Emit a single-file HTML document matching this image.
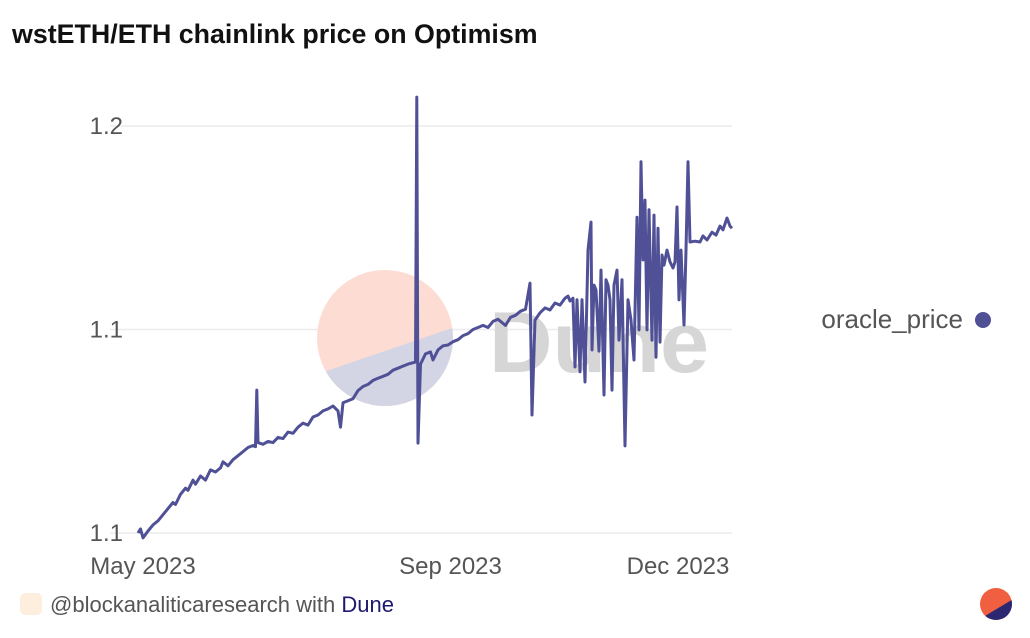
<!DOCTYPE html>
<html><head><meta charset="utf-8"><style>
body{margin:0;width:1030px;height:638px;background:#fff;overflow:hidden;font-family:"Liberation Sans",sans-serif;}
svg{position:absolute;left:0;top:0}
</style></head><body>
<svg id="chart" width="1030" height="638">
  <text x="12" y="43" font-size="26.8" font-weight="bold" fill="#111">wstETH/ETH chainlink price on Optimism</text>
  <g id="grid"></g>
  <g>
    <clipPath id="wc"><circle cx="385" cy="338" r="68"/></clipPath>
    <circle cx="385" cy="338" r="68" fill="#fcdcd3"/>
    <polygon points="300,380 470,322 470,420 300,420" fill="#d3d5e5" clip-path="url(#wc)"/>
    <text x="489" y="372" font-size="86" font-weight="bold" fill="#d6d6d6" textLength="220" lengthAdjust="spacingAndGlyphs">Dune</text>
  </g>
  <g id="yticks"></g>
  <g id="xticks"></g>
  <path id="line" fill="none" stroke="#505096" stroke-width="3" stroke-linejoin="round"/>
  <g>
    <text x="963" y="328" font-size="26" fill="#555" text-anchor="end">oracle_price</text>
    <circle cx="983" cy="320" r="8" fill="#505096"/>
  </g>
  <rect x="20" y="593" width="22" height="22" rx="5" fill="#fdeedd"/>
  <text x="50" y="612" font-size="22" fill="#555">@blockanaliticaresearch with <tspan fill="#1e1870">Dune</tspan></text>
  <g>
    <clipPath id="lc"><circle cx="996" cy="604" r="16"/></clipPath>
    <circle cx="996" cy="604" r="16" fill="#f06040"/>
    <polygon points="975,622 1015,598 1015,625 975,625" fill="#2b2770" clip-path="url(#lc)"/>
  </g>
</svg>
<script>
const days=[0,1,2,4,6,8,10,12,14,15,17,19,20,22,23,25,27,29,31,33,34,36,38,40,42,44,46,47,47.5,48,50,52,54,56,58,60,62,64,66,68,70,72,74,76,78,80,81,82,84,86,88,90,92,94,96,98,100,102,104,106,108,111,111.5,112,113,115,117,118,120,122,124,126,128,130,132,134,136,138,140,142,144,146,147,149,151,153,155,156.8,157.6,158.8,160.8,162.8,164.8,166.8,168.8,170.8,172,172.8,174,174.8,175.6,176.8,177.6,178.8,180,181.2,181.6,182.4,183.2,184.4,185.2,186.4,187.2,188,188.8,189.6,190.4,191.6,192.4,193.6,194.8,196,197.2,198.4,199.6,200.4,201.2,202,202.8,203.6,204.4,205.6,206.4,207.2,208,208.8,209.6,210.4,211.6,212.8,214,214.8,215.6,216.4,217.2,218.4,219.2,220,220.8,222.8,224.8,226,227.6,229.6,231.2,232.8,234,235.6,236.8,237.6];
const values=[1.0500,1.0510,1.0488,1.0505,1.0520,1.0530,1.0545,1.0560,1.0575,1.0570,1.0595,1.0610,1.0605,1.0630,1.0620,1.0640,1.0630,1.0655,1.0650,1.0660,1.0675,1.0665,1.0680,1.0690,1.0700,1.0710,1.0715,1.0712,1.0851,1.0722,1.0718,1.0725,1.0722,1.0735,1.0732,1.0748,1.0745,1.0760,1.0770,1.0765,1.0785,1.0790,1.0800,1.0805,1.0812,1.0800,1.0760,1.0820,1.0825,1.0830,1.0850,1.0860,1.0865,1.0875,1.0880,1.0885,1.0890,1.0900,1.0905,1.0910,1.0915,1.0920,1.1571,1.0721,1.0915,1.0940,1.0945,1.0925,1.0950,1.0960,1.0962,1.0970,1.0975,1.0985,1.0990,1.1000,1.1005,1.1010,1.1005,1.1020,1.1025,1.1015,1.1010,1.1030,1.1035,1.1045,1.1050,1.1114,1.0790,1.1023,1.1041,1.1053,1.1048,1.1065,1.1060,1.1077,1.1082,1.1070,1.1077,1.0908,1.1073,1.0896,1.1073,1.0871,1.1195,1.1264,1.0950,1.1109,1.1097,1.0947,1.1146,1.0839,1.1122,1.1109,1.1073,1.0851,1.1109,1.1146,1.0974,1.1122,1.0714,1.1073,1.1023,1.0925,1.1276,1.0999,1.1412,1.1171,1.1318,1.0999,1.1294,1.0974,1.1281,1.0932,1.1249,1.0969,1.1183,1.1158,1.1195,1.1166,1.1151,1.1166,1.1301,1.1073,1.1195,1.1011,1.1195,1.1412,1.1215,1.1217,1.1215,1.1230,1.1220,1.1239,1.1232,1.1254,1.1245,1.1274,1.1254,1.1249];
const yTicks=[1.05,1.10,1.15];
const yTickLabels=["1.1","1.1","1.2"];
const xTickDays=[2,125,216];
const xTickLabels=["May 2023","Sep 2023","Dec 2023"];
const NS="http://www.w3.org/2000/svg";
const X0=138,X1=732,D0=0,D1=237.6,Y0=533,V0=1.05,PXPER=203.5/0.05;
function xs(d){return X0+(d-D0)/(D1-D0)*(X1-X0);}
function ys(v){return Y0-(v-V0)*PXPER;}
const grid=document.getElementById('grid'),yt=document.getElementById('yticks'),xt=document.getElementById('xticks');
yTicks.forEach((v,i)=>{
  const l=document.createElementNS(NS,'line');
  l.setAttribute('x1',110);l.setAttribute('x2',732);l.setAttribute('y1',ys(v));l.setAttribute('y2',ys(v));
  l.setAttribute('stroke','#ececec');l.setAttribute('stroke-width','1.5');
  
  
  grid.appendChild(l);
  const t=document.createElementNS(NS,'text');
  t.setAttribute('x',123);t.setAttribute('y',ys(v)+8);t.setAttribute('text-anchor','end');
  t.setAttribute('font-size','24');t.setAttribute('fill','#555');t.textContent=yTickLabels[i];
  
  
  yt.appendChild(t);
});
xTickDays.forEach((d,i)=>{
  const t=document.createElementNS(NS,'text');
  t.setAttribute('x',xs(d));t.setAttribute('y',574);t.setAttribute('text-anchor','middle');
  t.setAttribute('font-size','24');t.setAttribute('fill','#555');t.textContent=xTickLabels[i];
  
  
  xt.appendChild(t);
});
document.getElementById('line').setAttribute('d',days.map((d,i)=>(i?'L':'M')+xs(d).toFixed(1)+','+ys(values[i]).toFixed(1)).join(''));
</script>
</body></html>
